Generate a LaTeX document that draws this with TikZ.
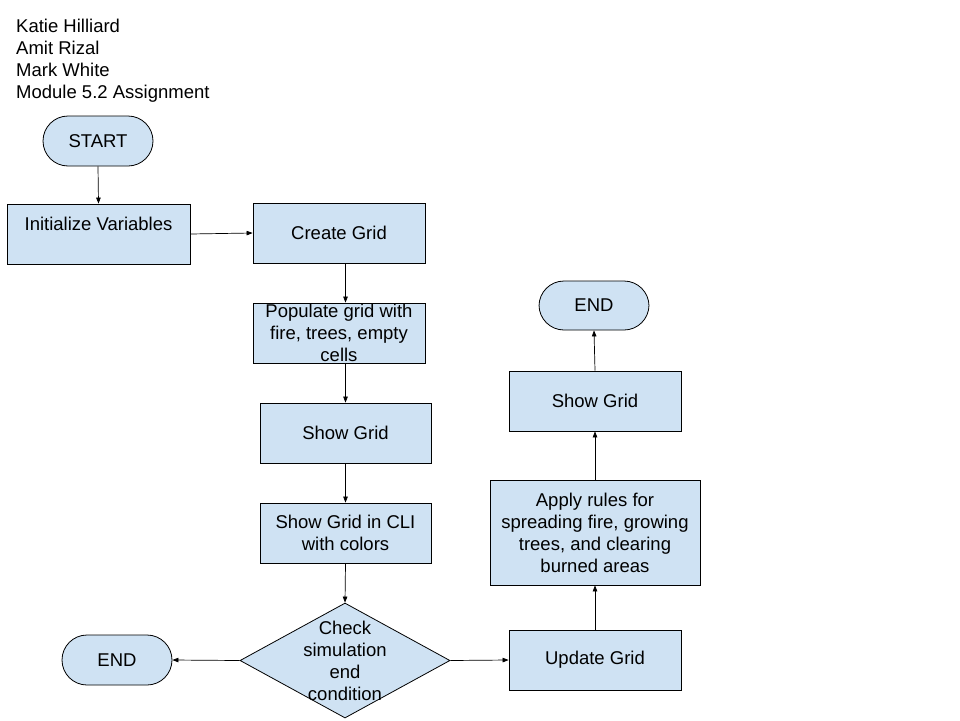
\documentclass[tikz,border=0pt]{standalone}
\usepackage{fontspec}
\setmainfont{Liberation Sans}
\usetikzlibrary{arrows.meta,shapes.geometric}
\definecolor{boxfill}{HTML}{CFE2F3}
\tikzset{
  every node/.style={font=\fontsize{18.5}{22}\selectfont, inner sep=0pt},
  box/.style={draw=black, fill=boxfill, line width=0.8pt, align=center},
  term/.style={box, rounded corners=25pt, minimum width=110pt, minimum height=50pt},
  arr/.style={line width=0.7pt, -{Triangle[length=6pt,width=4.5pt]}},
}
\begin{document}
\begin{tikzpicture}[x=1pt,y=-1pt]
\useasboundingbox[fill=white] (0,0) rectangle (960,720);

\node[anchor=north west, align=left] (header) at (16,18.5)
  {Katie Hilliard\\Amit Rizal\\Mark White\\Module 5.2 Assignment};

\node[term] (start) at (98,141) {START};
\node[box, minimum width=183pt, minimum height=60pt] (init) at (98.5,234) {};
\node (initlabel) at ([yshift=10pt]init.center) {Initialize Variables};
\node[box, minimum width=172pt, minimum height=60pt] (create) at (339,233) {Create Grid};
\node[box, minimum width=172pt, minimum height=60pt] (populate) at (339,333)
  {Populate grid with\\fire, trees, empty\\cells};
\node[box, minimum width=171pt, minimum height=60pt] (show1) at (345.5,433) {Show Grid};
\node[box, minimum width=171pt, minimum height=60pt] (cli) at (345.5,533)
  {Show Grid in CLI\\with colors};
\node[draw=black, fill=boxfill, line width=0.8pt, diamond, aspect=1.826,
      minimum width=210pt, minimum height=115pt] (check) at (345,660.5) {};
\node[align=center] (checklabel) at (345,661) {Check\\simulation\\end\\condition};
\node[term] (end1) at (117,660) {END};
\node[box, minimum width=172pt, minimum height=60pt] (update) at (595,660) {Update Grid};
\node[box, minimum width=210pt, minimum height=105pt] (apply) at (595,532.5)
  {Apply rules for\\spreading fire, growing\\trees, and clearing\\burned areas};
\node[box, minimum width=172pt, minimum height=60pt] (show2) at (595,401) {Show Grid};
\node[term, minimum height=49pt] (end2) at (594,305.5) {END};

\draw[arr] (start.south) -- (init.north);
\draw[arr] (init.east) -- (create.west);
\draw[arr] ([xshift=6.5pt]create.south) -- ([xshift=6.5pt]populate.north);
\draw[arr] ([xshift=6.5pt]populate.south) -- (show1.north);
\draw[arr] (show1.south) -- (cli.north);
\draw[arr] (cli.south) -- (check.north);
\draw[arr] (check.west) -- (end1.east);
\draw[arr] (check.east) -- (update.west);
\draw[arr] (update.north) -- (apply.south);
\draw[arr] (apply.north) -- (show2.south);
\draw[arr] (show2.north) -- (end2.south);
\end{tikzpicture}
\end{document}
